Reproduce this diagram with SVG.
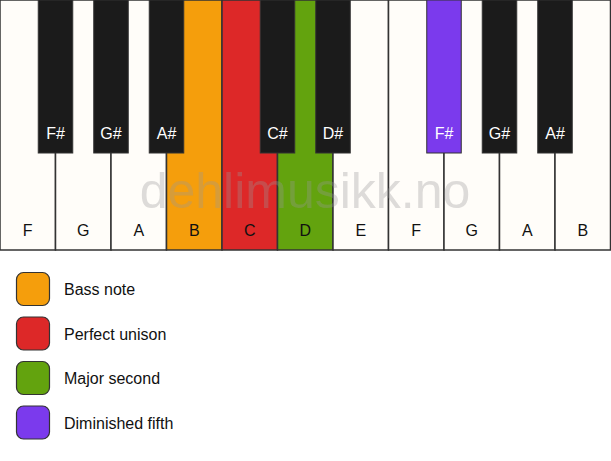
<svg xmlns="http://www.w3.org/2000/svg" width="611" height="461" viewBox="0 0 611 461">
<style>
.w{fill:#fffdf9;stroke:#333;stroke-width:1.5}
.b{fill:#1b1b1b;stroke:#333;stroke-width:1}
.lw{font-family:"Liberation Sans",Arial,sans-serif;font-size:16px;fill:#111;text-anchor:middle}
.lb{font-family:"Liberation Sans",Arial,sans-serif;font-size:16px;fill:#fff;text-anchor:middle}
.sw{stroke:#333;stroke-width:1.2}
.lt{font-family:"Liberation Sans",Arial,sans-serif;font-size:16px;fill:#111}
.wm{font-family:"Liberation Sans",Arial,sans-serif;font-size:50px;fill:#999;fill-opacity:0.33;text-anchor:middle}
</style>
<rect width="611" height="461" fill="#fff"/>
<g id="white-keys">
<g id="key-F1"><rect class="w" x="0" y="0" width="55.5" height="250"/><text class="lw" x="27.75" y="236">F</text></g>
<g id="key-G1"><rect class="w" x="55.5" y="0" width="55.5" height="250"/><text class="lw" x="83.25" y="236">G</text></g>
<g id="key-A1"><rect class="w" x="111" y="0" width="55.5" height="250"/><text class="lw" x="138.75" y="236">A</text></g>
<g id="key-B1"><rect class="w" x="166.5" y="0" width="55.5" height="250" style="fill:#f59e0c"/><text class="lw" x="194.25" y="236">B</text></g>
<g id="key-C1"><rect class="w" x="222" y="0" width="55.5" height="250" style="fill:#dd2828"/><text class="lw" x="249.75" y="236">C</text></g>
<g id="key-D1"><rect class="w" x="277.5" y="0" width="55.5" height="250" style="fill:#63a30e"/><text class="lw" x="305.25" y="236">D</text></g>
<g id="key-E1"><rect class="w" x="333" y="0" width="55.5" height="250"/><text class="lw" x="360.75" y="236">E</text></g>
<g id="key-F2"><rect class="w" x="388.5" y="0" width="55.5" height="250"/><text class="lw" x="416.25" y="236">F</text></g>
<g id="key-G2"><rect class="w" x="444" y="0" width="55.5" height="250"/><text class="lw" x="471.75" y="236">G</text></g>
<g id="key-A2"><rect class="w" x="499.5" y="0" width="55.5" height="250"/><text class="lw" x="527.25" y="236">A</text></g>
<g id="key-B2"><rect class="w" x="555" y="0" width="55.5" height="250"/><text class="lw" x="582.75" y="236">B</text></g>
</g>
<text class="wm" x="305" y="208">dehlimusikk.no</text>
<g id="black-keys">
<g id="key-Fs1"><rect class="b" x="38.25" y="0" width="34.5" height="153"/><text class="lb" x="55.5" y="139">F#</text></g>
<g id="key-Gs1"><rect class="b" x="93.75" y="0" width="34.5" height="153"/><text class="lb" x="111" y="139">G#</text></g>
<g id="key-As1"><rect class="b" x="149.25" y="0" width="34.5" height="153"/><text class="lb" x="166.5" y="139">A#</text></g>
<g id="key-Cs1"><rect class="b" x="260.25" y="0" width="34.5" height="153"/><text class="lb" x="277.5" y="139">C#</text></g>
<g id="key-Ds1"><rect class="b" x="315.75" y="0" width="34.5" height="153"/><text class="lb" x="333" y="139">D#</text></g>
<g id="key-Fs2"><rect class="b" x="426.75" y="0" width="34.5" height="153" style="fill:#7b3aed"/><text class="lb" x="444" y="139">F#</text></g>
<g id="key-Gs2"><rect class="b" x="482.25" y="0" width="34.5" height="153"/><text class="lb" x="499.5" y="139">G#</text></g>
<g id="key-As2"><rect class="b" x="537.75" y="0" width="34.5" height="153"/><text class="lb" x="555" y="139">A#</text></g>
</g>
<g id="legend">
<g id="legend-bass"><rect class="sw" x="16.5" y="272.5" width="33" height="33" rx="7" fill="#f59e0c"/><text class="lt" x="64" y="295">Bass note</text></g>
<g id="legend-unison"><rect class="sw" x="16.5" y="317" width="33" height="33" rx="7" fill="#dd2828"/><text class="lt" x="64" y="339.5">Perfect unison</text></g>
<g id="legend-second"><rect class="sw" x="16.5" y="361.5" width="33" height="33" rx="7" fill="#63a30e"/><text class="lt" x="64" y="384">Major second</text></g>
<g id="legend-fifth"><rect class="sw" x="16.5" y="406" width="33" height="33" rx="7" fill="#7b3aed"/><text class="lt" x="64" y="428.5">Diminished fifth</text></g>
</g>
<g id="connectors"/>
</svg>
